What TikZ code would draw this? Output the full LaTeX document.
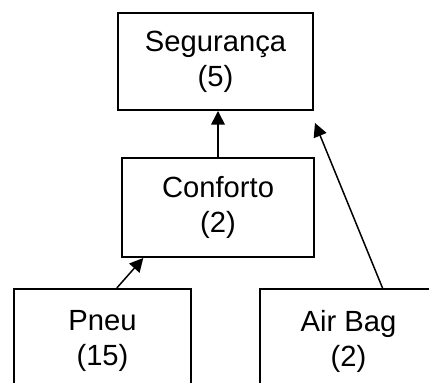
\documentclass[tikz,border=0pt]{standalone}
\usepackage{fontspec}
\setmainfont{Liberation Sans}
\usetikzlibrary{arrows.meta, calc}

\tikzset{
	crit/.style={draw, line width=1pt, inner sep=0pt, align=center,
		minimum width=96pt, minimum height=48.5pt,
		font=\fontsize{14.6}{17.5}\selectfont},
	link/.style={line width=0.75pt, -{Triangle[length=6.8pt, width=6.8pt]}}
}

\begin{document}
\begin{tikzpicture}[x=0.5pt, y=-0.5pt]
	% Page size
	\useasboundingbox (0,0) rectangle (429,383);

	% Draw the criteria boxes
	\node[crit, minimum width=97.5pt] (seg) at (215.5,61.5) {Seguran\c{c}a\\(5)};
	\node[crit, minimum height=49.5pt] (conf) at (218,207.5) {Conforto\\(2)};
	\node[crit, minimum width=88.5pt, minimum height=52pt] (pneu) at (102.5,341) {Pneu\\(15)};
	\node[crit, minimum width=88.5pt, minimum height=52pt] (bag) at (348.5,341) {Air Bag\\(2)};

	% Free end of the air bag arrow
	\coordinate (bagtip) at ($(seg.south east)+(1,12)$);

	% Draw the arrows
	\draw[link] (conf.north) -- (conf.north |- seg.south);
	\draw[link] ($(pneu.north west)!0.58!(pneu.north east)$) -- ($(conf.south west)!0.115!(conf.south east)$);
	\draw[link] ($(bag.north west)!0.69!(bag.north east)$) -- (bagtip);
\end{tikzpicture}
\end{document}
